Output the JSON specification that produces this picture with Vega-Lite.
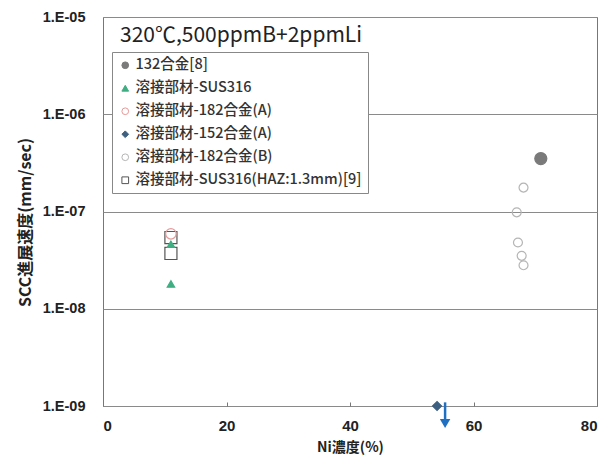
{
  "$schema": "https://vega.github.io/schema/vega-lite/v6.json",
  "width": 494,
  "height": 389,
  "autosize": {"type": "none"},
  "padding": {"left": 103, "top": 17, "right": 11, "bottom": 64},
  "background": "white",
  "title": {
    "text": "320℃,500ppmB+2ppmLi",
    "anchor": "start",
    "frame": "group",
    "orient": "top",
    "offset": 0,
    "baseline": "alphabetic",
    "dy": 54,
    "dx": 17,
    "font": "Noto Sans CJK JP",
    "fontSize": 21,
    "fontWeight": "normal",
    "color": "#222"
  },
  "config": {
    "view": {"stroke": "#777", "strokeWidth": 1},
    "axis": {
      "labelFont": "Liberation Sans",
      "labelFontWeight": "bold",
      "labelColor": "#222",
      "titleColor": "#222",
      "domain": false
    }
  },
  "datasets": {
    "pts": [
      {"series": "132合金[8]", "ni": 70.9, "rate": 3.5e-7},
      {"series": "溶接部材-SUS316", "ni": 11, "rate": 4.6e-8},
      {"series": "溶接部材-SUS316", "ni": 11, "rate": 1.8e-8},
      {"series": "溶接部材-182合金(A)", "ni": 11, "rate": 5.9e-8},
      {"series": "溶接部材-152合金(A)", "ni": 54.1, "rate": 1e-9},
      {"series": "溶接部材-182合金(B)", "ni": 68.1, "rate": 1.76e-7},
      {"series": "溶接部材-182合金(B)", "ni": 67.0, "rate": 9.8e-8},
      {"series": "溶接部材-182合金(B)", "ni": 67.2, "rate": 4.8e-8},
      {"series": "溶接部材-182合金(B)", "ni": 67.8, "rate": 3.5e-8},
      {"series": "溶接部材-182合金(B)", "ni": 68.1, "rate": 2.8e-8},
      {"series": "溶接部材-SUS316(HAZ:1.3mm)[9]", "ni": 11, "rate": 5.4e-8},
      {"series": "溶接部材-SUS316(HAZ:1.3mm)[9]", "ni": 11, "rate": 3.7e-8}
    ],
    "arrow": [
      {"ni": 55.4, "top": 1.09e-9, "bottom": 6.6e-10}
    ]
  },
  "layer": [
    {
      "data": {"name": "pts"},
      "encoding": {
        "x": {
          "field": "ni", "type": "quantitative",
          "scale": {"domain": [0, 80], "nice": false},
          "axis": {
            "values": [0, 20, 40, 60, 80],
            "grid": false,
            "ticks": true,
            "tickSize": -4,
            "tickColor": "#777",
            "labelFontSize": 15,
            "labelPadding": 16,
            "title": "Ni濃度(%)",
            "titleFont": "Noto Sans CJK JP",
            "titleFontSize": 14,
            "titleFontWeight": "bold",
            "titlePadding": 7
          }
        },
        "y": {
          "field": "rate", "type": "quantitative",
          "scale": {"type": "log", "domain": [1e-9, 1e-5], "nice": false},
          "axis": {
            "values": [1e-9, 1e-8, 1e-7, 1e-6, 1e-5],
            "labelExpr": "'1.E-0' + round(-log(datum.value)/LN10)",
            "grid": true,
            "gridColor": "#8a8a8a",
            "gridOpacity": 1,
            "gridWidth": 1,
            "ticks": false,
            "labelFontSize": 14.5,
            "labelPadding": 18,
            "title": "SCC進展速度(mm/sec)",
            "titleFont": "Noto Sans CJK JP",
            "titleFontSize": 16,
            "titleFontWeight": "bold",
            "titleX": -78,
            "titleY": 205,
            "titleAlign": "center",
            "titleBaseline": "middle"
          }
        },
        "shape": {
          "field": "series", "type": "nominal",
          "scale": {
            "domain": ["132合金[8]", "溶接部材-SUS316", "溶接部材-182合金(A)", "溶接部材-152合金(A)", "溶接部材-182合金(B)", "溶接部材-SUS316(HAZ:1.3mm)[9]"],
            "range": ["circle", "triangle-up", "circle", "diamond", "circle", "square"]
          },
          "legend": {
            "title": null,
            "orient": "none",
            "legendX": 9,
            "legendY": 35,
            "fillColor": "white",
            "strokeColor": "#888",
            "padding": 6,
            "labelFont": "Noto Sans CJK JP",
            "labelFontSize": 14.5,
            "labelColor": "#333",
            "labelFontWeight": 500,
            "rowPadding": 8,
            "symbolSize": 45,
            "symbolStrokeWidth": 1,
            "labelOffset": 3,
            "labelLimit": 400
          }
        },
        "stroke": {
          "field": "series", "type": "nominal",
          "scale": {
            "domain": ["132合金[8]", "溶接部材-SUS316", "溶接部材-182合金(A)", "溶接部材-152合金(A)", "溶接部材-182合金(B)", "溶接部材-SUS316(HAZ:1.3mm)[9]"],
            "range": ["#7a7a7a", "#3fae82", "#e59a9a", "#3d5f80", "#b5b5b5", "#555555"]
          }
        },
        "fill": {
          "field": "series", "type": "nominal",
          "scale": {
            "domain": ["132合金[8]", "溶接部材-SUS316", "溶接部材-182合金(A)", "溶接部材-152合金(A)", "溶接部材-182合金(B)", "溶接部材-SUS316(HAZ:1.3mm)[9]"],
            "range": ["#7a7a7a", "#3fae82", "transparent", "#3d5f80", "transparent", "transparent"]
          }
        }
      },
      "layer": [
        {
          "transform": [{"filter": {"field": "series", "oneOf": ["132合金[8]", "溶接部材-SUS316(HAZ:1.3mm)[9]"]}}],
          "mark": {"type": "point", "opacity": 1, "strokeWidth": 1.2, "size": 145}
        },
        {
          "transform": [{"filter": {"field": "series", "oneOf": ["溶接部材-182合金(A)"]}}],
          "mark": {"type": "point", "opacity": 1, "strokeWidth": 1.2, "size": 110}
        },
        {
          "transform": [{"filter": {"field": "series", "oneOf": ["溶接部材-152合金(A)", "溶接部材-182合金(B)"]}}],
          "mark": {"type": "point", "opacity": 1, "strokeWidth": 1.2, "size": 80}
        },
        {
          "transform": [{"filter": {"field": "series", "oneOf": ["溶接部材-SUS316"]}}],
          "mark": {"type": "point", "opacity": 1, "strokeWidth": 1.2, "size": 55}
        }
      ]
    },
    {
      "data": {"name": "arrow"},
      "mark": {"type": "rule", "color": "#1f70c1", "strokeWidth": 2.5},
      "encoding": {
        "x": {"field": "ni", "type": "quantitative"},
        "y": {"field": "top", "type": "quantitative"},
        "y2": {"field": "bottom"}
      }
    },
    {
      "data": {"name": "arrow"},
      "mark": {"type": "point", "shape": "triangle-down", "filled": true, "color": "#1f70c1", "size": 110, "opacity": 1},
      "encoding": {
        "x": {"field": "ni", "type": "quantitative"},
        "y": {"field": "bottom", "type": "quantitative"}
      }
    }
  ]
}
